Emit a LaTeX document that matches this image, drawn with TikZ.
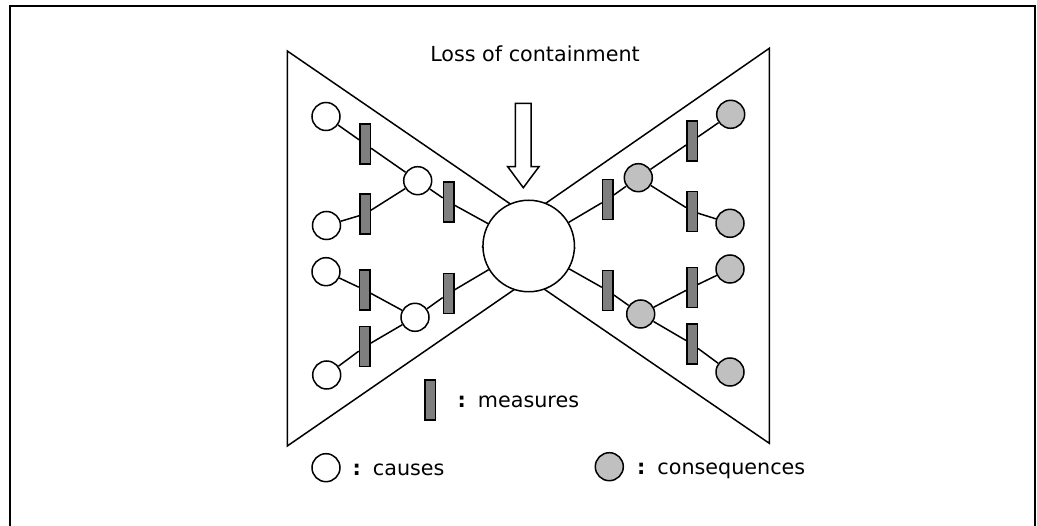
\documentclass[tikz,border=0pt]{standalone}
\usepackage{fontspec}
\setmainfont{DejaVu Sans}
\definecolor{measgray}{HTML}{7F7F7F}
\definecolor{consgray}{HTML}{C0C0C0}
\tikzset{
  lw/.style={line width=1.5pt},
  cause/.style={circle, draw, lw, fill=white, minimum size=28pt, inner sep=0pt},
  conseq/.style={circle, draw, lw, fill=consgray, minimum size=28pt, inner sep=0pt},
  measure/.style={rectangle, draw, lw, fill=measgray, minimum width=10.5pt, minimum height=40pt, inner sep=0pt},
  event/.style={circle, draw, lw, fill=white, minimum size=91.5pt, inner sep=0pt},
  link/.style={draw, lw},
  lbl/.style={font=\fontsize{20.7}{24}\selectfont, inner sep=0pt, anchor=base west},
}
\begin{document}
\begin{tikzpicture}[x=1pt,y=-1pt]
\useasboundingbox (0,0) rectangle (1037,526);
% frame
\draw[line width=2pt] (9.5,530) -- (9.5,6.5) -- (1035,6.5) -- (1035,530);
% bow-tie triangles
\draw[lw] (287.3,51) -- (287.3,446) -- (574.5,248) -- cycle;
\draw[lw] (769.3,48.3) -- (769.3,443.3) -- (482.7,247) -- cycle;
% title and arrow
\node[lbl, anchor=base] (title) at (535,62) {Loss of containment};
\draw[lw, fill=white] (515.3,103.3) -- (531,103.3) -- (531,166.7) -- (539,166.7)
  -- (523.3,187.7) -- (507.7,166.7) -- (515.3,166.7) -- cycle;
% central event
\node[event] (big) at (528.7,246) {};
% causes side
\node[cause] (cA) at (326,116.5) {};
\node[cause] (cB) at (326.5,225.5) {};
\node[cause] (cC) at (326,271.7) {};
\node[cause] (cD) at (326.7,375) {};
\node[cause] (iU) at (417.7,180.7) {};
\node[cause] (iL) at (415,317.3) {};
\node[measure] (mA) at (365,144) {};
\node[measure] (mB) at (365,214) {};
\node[measure] (mU) at (448.7,202) {};
\node[measure] (mC) at (364.7,290) {};
\node[measure] (mD) at (364.7,346.7) {};
\node[measure] (mL) at (448.7,293.3) {};
% consequences side
\node[conseq] (gU) at (638.3,177.7) {};
\node[conseq] (gA) at (730.7,114.3) {};
\node[conseq] (gB) at (730,223.3) {};
\node[conseq] (gL) at (640.7,314) {};
\node[conseq] (gC) at (730,269) {};
\node[conseq] (gD) at (730,372) {};
\node[measure] (mR1) at (607.7,199.3) {};
\node[measure] (mR2) at (692,141) {};
\node[measure] (mR3) at (692,211.3) {};
\node[measure] (mR4) at (607.8,290.7) {};
\node[measure] (mR5) at (692,287.3) {};
\node[measure] (mR6) at (692,344) {};
% connectors
\path[link] (cA) -- (mA) -- (iU);
\path[link] (cB) -- (mB) -- (iU);
\path[link] (iU) -- (mU) -- (big);
\path[link] (cC) -- (mC) -- (iL);
\path[link] (cD) -- (mD) -- (iL);
\path[link] (iL) -- (mL) -- (big);
\path[link] (big) -- (mR1) -- (gU);
\path[link] (gU) -- (mR2) -- (gA);
\path[link] (gU) -- (mR3) -- (gB);
\path[link] (big) -- (mR4) -- (gL);
\path[link] (gL) -- (mR5) -- (gC);
\path[link] (gL) -- (mR6) -- (gD);
% legend
\node[measure] (legM) at (430.3,400) {};
\node[lbl] (legMt) at (457.5,407.3) {\textbf{:}\hspace{12pt}measures};
\node[cause] (legC) at (326,467.7) {};
\node[lbl] (legCt) at (352.5,475.7) {\textbf{:}\hspace{12pt}causes};
\node[conseq] (legG) at (609.3,466.7) {};
\node[lbl] (legGt) at (637,474.3) {\textbf{:}\hspace{12pt}consequences};
\end{tikzpicture}
\end{document}
